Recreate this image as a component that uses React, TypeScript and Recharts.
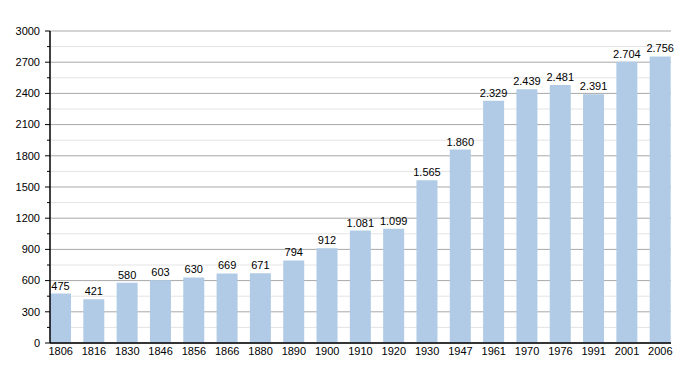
import { BarChart, Bar, XAxis, YAxis, CartesianGrid, LabelList } from "recharts";

// Popolazione per anno di censimento
const years = ["1806", "1816", "1830", "1846", "1856", "1866", "1880", "1890", "1900", "1910", "1920", "1930", "1947", "1961", "1970", "1976", "1991", "2001", "2006"];
const population = [475, 421, 580, 603, 630, 669, 671, 794, 912, 1081, 1099, 1565, 1860, 2329, 2439, 2481, 2391, 2704, 2756];
const majorTicks = [0, 300, 600, 900, 1200, 1500, 1800, 2100, 2400, 2700, 3000];
const minorTicks = [150, 450, 750, 1050, 1350, 1650, 1950, 2250, 2550, 2850];

const data = years.map((year, i) => ({ year, value: population[i] }));
const allTicks = [...majorTicks, ...minorTicks].sort((a, b) => a - b);

const font = "'Liberation Sans', Arial, sans-serif";

// separatore delle migliaia con il punto
const fmt = (v: number) => String(v).replace(/\B(?=(\d{3})+(?!\d))/g, ".");

function YTick(props: any) {
  const { x, y, payload } = props;
  const major = payload.value % 300 === 0;
  return (
    <g>
      <line x1={x - (major ? 5 : 3)} x2={x} y1={y} y2={y} stroke="#000" strokeWidth={1} />
      {major && (
        <text x={x - 10} y={y} dy="0.35em" textAnchor="end" fontSize={11} fill="#000" fontFamily={font}>
          {payload.value}
        </text>
      )}
    </g>
  );
}

export default function App() {
  return (
    <div style={{ position: "absolute", left: 0, top: 0, width: 700, height: 373, background: "#fff" }}>
      <BarChart width={700} height={373} data={data} margin={{ top: 31, right: 29, bottom: 0, left: 0 }}>
        <CartesianGrid vertical={false} horizontalValues={minorTicks} stroke="#e4e4e4" />
        <CartesianGrid vertical={false} horizontalValues={majorTicks} stroke="#a8a8a8" />
        <XAxis
          dataKey="year"
          height={30}
          padding={{ left: -6, right: -6 }}
          tickLine={false}
          tickSize={0}
          tickMargin={4}
          axisLine={{ stroke: "#000", strokeWidth: 1.5 }}
          tick={{ fontSize: 11, fill: "#000", fontFamily: font }}
          interval={0}
        />
        <YAxis
          width={50}
          domain={[0, 3000]}
          ticks={allTicks}
          interval={0}
          tickLine={false}
          tickSize={0}
          tickMargin={0}
          axisLine={{ stroke: "#000", strokeWidth: 1.5 }}
          tick={<YTick />}
        />
        <Bar dataKey="value" fill="#b1cbe6" barSize={21} isAnimationActive={false}>
          <LabelList dataKey="value" position="top" offset={4} formatter={(v: any) => fmt(Number(v))} style={{ fontSize: 11, fill: "#000", fontFamily: font }} />
        </Bar>
      </BarChart>
    </div>
  );
}
